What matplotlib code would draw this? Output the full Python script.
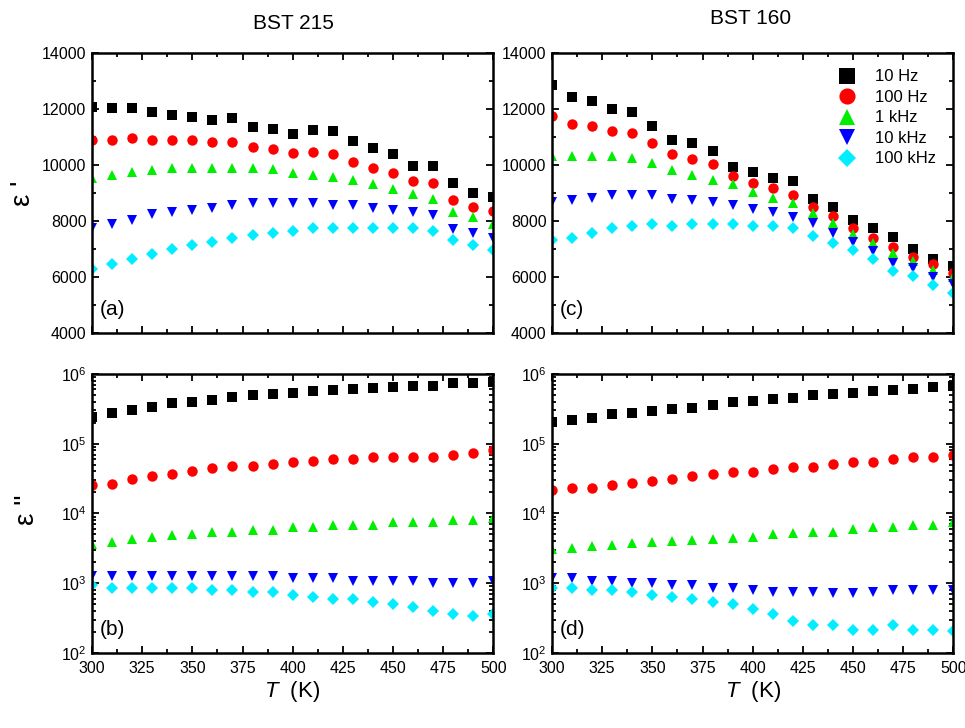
import matplotlib
matplotlib.use("Agg")
import matplotlib.pyplot as plt
from matplotlib.ticker import MultipleLocator, LogLocator, NullFormatter

plt.rcParams['font.family'] = ['Liberation Sans', 'DejaVu Sans']
plt.rcParams['mathtext.fontset'] = 'custom'
plt.rcParams['mathtext.rm'] = 'Liberation Sans'
plt.rcParams['mathtext.it'] = 'Liberation Sans:italic'

T = [300, 310, 320, 330, 340, 350, 360, 370, 380, 390, 400,
     410, 420, 430, 440, 450, 460, 470, 480, 490, 500]
freqs = ["10 Hz", "100 Hz", "1 kHz", "10 kHz", "100 kHz"]

# BST 215, epsilon'
a_10Hz = [12070, 12020, 12050, 11900, 11800, 11720, 11600, 11680, 11370, 11300, 11120,
          11250, 11220, 10840, 10620, 10410, 9980, 9980, 9350, 9000, 8850]
a_100Hz = [10890, 10890, 10980, 10890, 10890, 10890, 10810, 10810, 10630, 10560, 10420,
           10450, 10380, 10110, 9880, 9700, 9440, 9360, 8760, 8500, 8350]
a_1kHz = [9520, 9650, 9740, 9820, 9900, 9900, 9900, 9900, 9900, 9860, 9730,
          9640, 9560, 9480, 9310, 9130, 8960, 8800, 8330, 8140, 7880]
a_10kHz = [7740, 7890, 8050, 8250, 8310, 8400, 8480, 8580, 8650, 8650, 8650,
           8650, 8580, 8560, 8480, 8390, 8320, 8210, 7730, 7560, 7380]
a_100kHz = [6300, 6460, 6640, 6810, 6990, 7160, 7240, 7400, 7490, 7580, 7650,
            7740, 7740, 7740, 7740, 7740, 7740, 7650, 7320, 7160, 6980]

# BST 160, epsilon'
c_10Hz = [12840, 12420, 12300, 11990, 11900, 11390, 10890, 10800, 10510, 9940, 9740,
          9520, 9430, 8790, 8500, 8040, 7740, 7420, 7000, 6640, 6400]
c_100Hz = [11750, 11460, 11390, 11230, 11140, 10800, 10380, 10210, 10040, 9610, 9360,
           9190, 8930, 8510, 8170, 7740, 7400, 7070, 6730, 6460, 6130]
c_1kHz = [10330, 10330, 10330, 10330, 10250, 10060, 9820, 9650, 9460, 9310, 9050,
          8810, 8630, 8270, 7940, 7520, 7200, 6850, 6580, 6250, 5990]
c_10kHz = [8670, 8750, 8830, 8930, 8930, 8930, 8790, 8750, 8670, 8580, 8420,
           8320, 8150, 7920, 7580, 7260, 6930, 6490, 6310, 5990, 5740]
c_100kHz = [7320, 7400, 7580, 7740, 7820, 7900, 7820, 7900, 7900, 7900, 7820,
            7820, 7740, 7480, 7230, 6980, 6630, 6210, 6050, 5700, 5440]

# BST 215, epsilon''
b_10Hz = [2.45e5, 2.74e5, 3.09e5, 3.34e5, 3.81e5, 3.94e5, 4.26e5, 4.65e5, 5.01e5, 5.18e5, 5.41e5,
          5.78e5, 5.85e5, 6.04e5, 6.24e5, 6.59e5, 6.75e5, 6.81e5, 7.36e5, 7.36e5, 7.76e5]
b_100Hz = [2.54e4, 2.69e4, 3.16e4, 3.41e4, 3.72e4, 4.03e4, 4.49e4, 4.74e4, 4.74e4, 5.07e4, 5.47e4,
           5.60e4, 6.04e4, 6.04e4, 6.46e4, 6.46e4, 6.46e4, 6.46e4, 6.89e4, 7.43e4, 8.04e4]
b_1kHz = [3.69e3, 3.94e3, 4.26e3, 4.59e3, 4.85e3, 5.13e3, 5.47e3, 5.47e3, 5.85e3, 5.85e3, 6.31e3,
          6.46e3, 6.89e3, 6.89e3, 6.89e3, 7.43e3, 7.43e3, 7.43e3, 7.94e3, 7.94e3, 8.67e3]
b_10kHz = [1270, 1270, 1270, 1270, 1270, 1270, 1270, 1270, 1270, 1270, 1180,
           1180, 1180, 1090, 1090, 1090, 1090, 1020, 1020, 1020, 1090]
b_100kHz = [935, 857, 857, 857, 857, 857, 804, 804, 743, 743, 681,
            631, 590, 590, 541, 501, 464, 398, 365, 338, 365]

# BST 160, epsilon''
d_10Hz = [2.04e5, 2.20e5, 2.35e5, 2.69e5, 2.74e5, 2.99e5, 3.16e5, 3.27e5, 3.61e5, 3.94e5, 4.07e5,
          4.35e5, 4.54e5, 4.95e5, 5.18e5, 5.36e5, 5.65e5, 5.97e5, 6.11e5, 6.46e5, 6.81e5]
d_100Hz = [2.15e4, 2.33e4, 2.33e4, 2.54e4, 2.71e4, 2.93e4, 3.16e4, 3.41e4, 3.69e4, 3.89e4, 3.98e4,
           4.35e4, 4.65e4, 4.65e4, 5.07e4, 5.47e4, 5.47e4, 5.97e4, 6.46e4, 6.46e4, 6.89e4]
d_1kHz = [3.13e3, 3.24e3, 3.41e3, 3.56e3, 3.77e3, 3.89e3, 4.03e3, 4.16e3, 4.30e3, 4.45e3, 4.65e3,
          5.07e3, 5.30e3, 5.47e3, 5.47e3, 5.90e3, 6.46e3, 6.46e3, 6.89e3, 6.89e3, 7.43e3]
d_10kHz = [1180, 1180, 1090, 1090, 1020, 1020, 935, 935, 857, 857, 804,
           743, 743, 743, 719, 719, 743, 804, 804, 804, 804]
d_100kHz = [867, 867, 804, 804, 743, 681, 631, 590, 541, 501, 430,
            365, 290, 248, 248, 211, 211, 248, 211, 211, 204]

colors = ['#000000', '#ff0000', '#00ee00', '#0000ff', '#00eeff']
markers = ['s', 'o', '^', 'v', 'D']
msizes = [7.5, 7.5, 7.5, 7.5, 6.0]

fig = plt.figure(figsize=(9.65, 7.28), dpi=100)
W = 0.416
H_top = 0.3846
H_bot = 0.3833
ax_a = fig.add_axes([0.0953, 0.5426, W, H_top])
ax_c = fig.add_axes([0.5720, 0.5426, W, H_top])
ax_b = fig.add_axes([0.0953, 0.1030, W, H_bot])
ax_d = fig.add_axes([0.5720, 0.1030, W, H_bot])

panels = [
    (ax_a, [a_10Hz, a_100Hz, a_1kHz, a_10kHz, a_100kHz], '(a)', False),
    (ax_c, [c_10Hz, c_100Hz, c_1kHz, c_10kHz, c_100kHz], '(c)', False),
    (ax_b, [b_10Hz, b_100Hz, b_1kHz, b_10kHz, b_100kHz], '(b)', True),
    (ax_d, [d_10Hz, d_100Hz, d_1kHz, d_10kHz, d_100kHz], '(d)', True),
]

for ax, series, tag, is_log in panels:
    for vals, c, m, ms, lab in zip(series, colors, markers, msizes, freqs):
        ax.plot(T, vals, linestyle='none', marker=m, color=c, markersize=ms,
                markeredgewidth=0, label=lab)
    ax.set_xlim(300, 500)
    ax.xaxis.set_major_locator(MultipleLocator(25))
    ax.xaxis.set_minor_locator(MultipleLocator(12.5))
    if is_log:
        ax.set_yscale('log')
        ax.set_ylim(1e2, 1e6)
        ax.yaxis.set_major_locator(LogLocator(base=10, numticks=10))
        ax.yaxis.set_minor_locator(LogLocator(base=10, subs=range(2, 10), numticks=100))
        ax.yaxis.set_minor_formatter(NullFormatter())
    else:
        ax.set_ylim(4000, 14000)
        ax.yaxis.set_major_locator(MultipleLocator(2000))
        ax.yaxis.set_minor_locator(MultipleLocator(1000))
        ax.set_xticklabels([])
    ax.tick_params(which='both', direction='in', top=True, right=True, width=1.3)
    ax.tick_params(which='major', length=5, labelsize=11.5)
    ax.tick_params(which='minor', length=3)
    ax.tick_params(axis='x', which='major', pad=6)
    ax.tick_params(axis='y', which='major', pad=4)
    for sp in ax.spines.values():
        sp.set_linewidth(1.8)
    ax.text(0.02, 0.05, tag, transform=ax.transAxes, fontsize=15, ha='left', va='bottom')

ax_c.legend(loc='upper right', frameon=False, fontsize=12, markerscale=1.55,
            handletextpad=0.7, labelspacing=0.33, borderaxespad=0.5,
            bbox_to_anchor=(0.995, 0.995))

fig.text(0.304, 0.968, 'BST 215', ha='center', va='center', fontsize=15)
fig.text(0.778, 0.975, 'BST 160', ha='center', va='center', fontsize=15)
fig.text(0.024, 0.735, "\u03b5 '", rotation=90, ha='center', va='center', fontsize=20)
fig.text(0.028, 0.30, "\u03b5 ''", rotation=90, ha='center', va='center', fontsize=20)
fig.text(0.303, 0.050, r'$\it{T}$  (K)', ha='center', va='center', fontsize=16)
fig.text(0.780, 0.050, r'$\it{T}$  (K)', ha='center', va='center', fontsize=16)

fig.savefig('out.png', dpi=100)
